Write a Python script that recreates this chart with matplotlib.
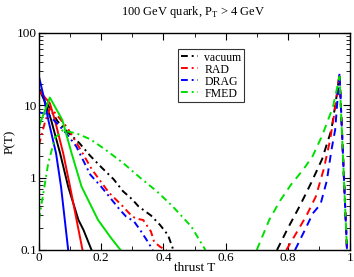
import matplotlib
matplotlib.use('Agg')
import matplotlib.pyplot as plt
from matplotlib.ticker import MultipleLocator, LogLocator, NullFormatter

plt.rcParams['font.family'] = ['Liberation Serif', 'DejaVu Serif']
plt.rcParams['mathtext.fontset'] = 'custom'
plt.rcParams['mathtext.rm'] = 'Liberation Serif'

names = ['vacuum', 'RAD', 'DRAG', 'FMED']
colors = ['black', 'red', 'blue', '#00e000']

# solid curves (steep, small T)
solid_T = [
    [0, 0.02, 0.039, 0.068, 0.094, 0.127, 0.143, 0.169],
    [0, 0.035, 0.051, 0.078, 0.10, 0.121, 0.14],
    [0, 0.014, 0.03, 0.055, 0.071, 0.094],
    [0, 0.035, 0.075, 0.105, 0.137, 0.19, 0.23, 0.262],
]
solid_P = [
    [17, 11, 6.3, 2.17, 0.75, 0.26, 0.19, 0.1],
    [16, 10.7, 6.3, 2.17, 0.75, 0.26, 0.1],
    [25, 13.9, 6.3, 2.17, 0.75, 0.1],
    [5.1, 12.8, 6.3, 2.17, 0.75, 0.26, 0.15, 0.1],
]

# dash-dot curves (broad)
dd_T = [
    [0, 0.02, 0.035, 0.06, 0.085, 0.13, 0.165, 0.2, 0.24, 0.27, 0.3, 0.32, 0.36, 0.39, 0.415, 0.432],
    [0, 0.02, 0.035, 0.05, 0.09, 0.13, 0.17, 0.225, 0.265, 0.3, 0.315, 0.335, 0.36, 0.37, 0.39, 0.41],
    [0, 0.03, 0.06, 0.09, 0.12, 0.165, 0.2, 0.23, 0.26, 0.28, 0.305, 0.325, 0.345, 0.366],
    [0, 0.03, 0.052, 0.062, 0.075, 0.12, 0.165, 0.21, 0.27, 0.325, 0.38, 0.43, 0.49, 0.535],
]
dd_P = [
    [17, 12, 9, 6, 4.6, 3.0, 2.0, 1.4, 0.95, 0.65, 0.5, 0.4, 0.3, 0.22, 0.16, 0.1],
    [2.8, 6, 9, 8, 5, 2.6, 1.3, 0.62, 0.42, 0.29, 0.27, 0.26, 0.18, 0.13, 0.11, 0.1],
    [8, 7.5, 5.5, 4, 2.7, 1.1, 0.75, 0.52, 0.36, 0.29, 0.25, 0.19, 0.14, 0.1],
    [0.26, 1.6, 3.6, 3.9, 4.5, 4.1, 3.4, 2.5, 1.6, 1.0, 0.64, 0.40, 0.21, 0.1],
]

# dashed curves (near T = 1)
da_T = [
    [0.765, 0.8, 0.84, 0.875, 0.91, 0.94, 0.955, 0.966, 0.99],
    [0.795, 0.83, 0.86, 0.89, 0.915, 0.935, 0.955, 0.966, 0.99],
    [0.823, 0.855, 0.88, 0.905, 0.925, 0.94, 0.952, 0.966, 0.99],
    [0.70, 0.74, 0.775, 0.81, 0.85, 0.88, 0.91, 0.945, 0.966, 0.99],
]
da_P = [
    [0.1, 0.2, 0.42, 0.85, 1.8, 4.6, 12, 27, 0.1],
    [0.1, 0.18, 0.3, 0.55, 1.3, 3.2, 11, 28, 0.1],
    [0.1, 0.19, 0.32, 0.43, 0.9, 2.4, 4.6, 28, 0.1],
    [0.1, 0.26, 0.48, 0.8, 1.3, 2.0, 3.8, 9.5, 25, 0.1],
]

fig = plt.figure(figsize=(3.54, 2.77), dpi=100)
ax = fig.add_axes([0.110, 0.0975, 0.879, 0.7835])

for i in range(4):
    ax.plot(solid_T[i], solid_P[i], color=colors[i], lw=1.4)
    ax.plot(dd_T[i], dd_P[i], color=colors[i], lw=1.4, dashes=(3.5, 2, 1, 2), label=names[i])
    ax.plot(da_T[i], da_P[i], color=colors[i], lw=1.4, dashes=(4, 3))

ax.set_yscale('log')
ax.set_xlim(0, 1)
ax.set_ylim(0.1, 100)
ax.xaxis.set_minor_locator(MultipleLocator(0.1))
ax.yaxis.set_minor_locator(LogLocator(base=10, subs=range(2, 10)))
ax.yaxis.set_minor_formatter(NullFormatter())
ax.set_yticks([0.1, 1, 10, 100])
ax.set_yticklabels(['0.1', '1', '10', '100'])
ax.set_xticks([0, 0.2, 0.4, 0.6, 0.8, 1])
ax.set_xticklabels(['0', '0.2', '0.4', '0.6', '0.8', '1'])
ax.tick_params(which='both', direction='in', top=True, right=True, labelsize=9.5, pad=1.5)
ax.tick_params(which='major', length=5)
ax.tick_params(which='minor', length=3)
for s in ax.spines.values():
    s.set_linewidth(1)

ax.set_xlabel('thrust T', fontsize=9.5, labelpad=-1.5)
ax.set_ylabel('P(T)', fontsize=9.5, labelpad=1)
fig.text(0.545, 0.945, r'100 GeV quark, P$_\mathrm{T}$ > 4 GeV', ha='center', fontsize=9)

leg = ax.legend(loc='upper left', bbox_to_anchor=(0.448, 0.925), fontsize=8.5, frameon=True,
                fancybox=False, edgecolor='black', handlelength=1.5, handletextpad=0.5,
                borderpad=0.2, labelspacing=0.0, borderaxespad=0)
leg.get_frame().set_linewidth(0.8)

fig.savefig('out.png', dpi=100)
